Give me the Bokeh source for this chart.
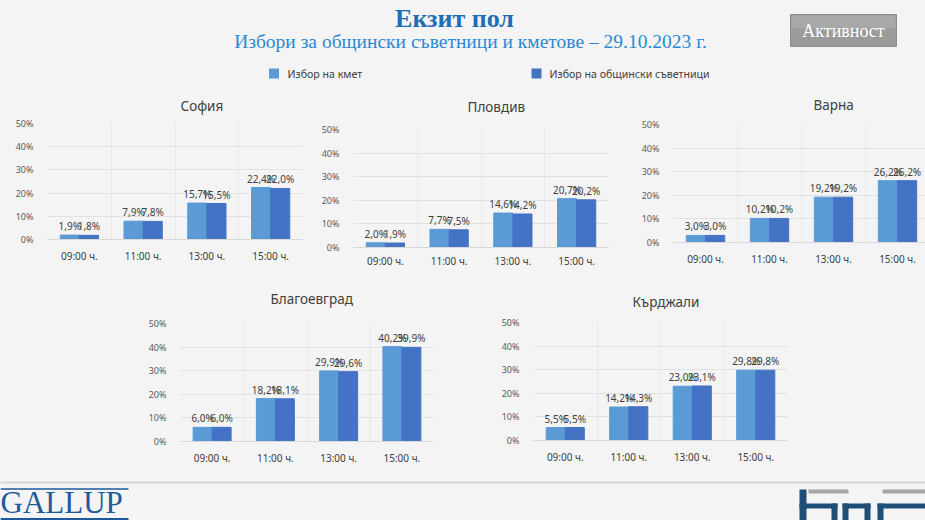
from bokeh.plotting import figure
from bokeh.layouts import column, row
from bokeh.models import Range1d, FixedTicker, NumeralTickFormatter, Spacer, ColumnDataSource
from bokeh.transform import dodge
from bokeh.core.properties import value
from bokeh.embed import file_html
from bokeh.resources import INLINE

# ---------------- data ----------------
main_title = "Екзит пол"
sub_title = "Избори за общински съветници и кметове – 29.10.2023 г."
button_text = "Активност"
series_names = ["Избор на кмет", "Избор на общински съветници"]
times = ["09:00 ч.", "11:00 ч.", "13:00 ч.", "15:00 ч."]
y_ticks = [0, 10, 20, 30, 40, 50]

sofia_mayor = [1.9, 7.9, 15.7, 22.4]
sofia_council = [1.8, 7.8, 15.5, 22.0]
plovdiv_mayor = [2.0, 7.7, 14.6, 20.7]
plovdiv_council = [1.9, 7.5, 14.2, 20.2]
varna_mayor = [3.0, 10.2, 19.2, 26.2]
varna_council = [3.0, 10.2, 19.2, 26.2]
blagoevgrad_mayor = [6.0, 18.2, 29.9, 40.2]
blagoevgrad_council = [6.0, 18.1, 29.6, 39.9]
kardzhali_mayor = [5.5, 14.2, 23.0, 29.8]
kardzhali_council = [5.5, 14.3, 23.1, 29.8]

# ---------------- style ----------------
BG = "#f4f4f4"
C_MAYOR = "#5b9bd5"
C_COUNCIL = "#4472c4"
FONT = "Noto Sans"
SERIF = "Liberation Serif"
TXT = "#404040"


def fmt(v):
    return f"{v:.1f}".replace(".", ",") + "%"


def make_chart(name, mayor, council, fw, fh, bl, br, bt, bb, x_end, t_off, t_stand, x_standoff=3):
    p = figure(frame_width=fw, frame_height=fh,
               x_range=Range1d(0, x_end), y_range=Range1d(0, 0.5),
               output_backend="svg", toolbar_location=None,
               min_border_left=bl, min_border_right=br,
               min_border_top=bt, min_border_bottom=bb,
               background_fill_color=BG, border_fill_color=BG,
               outline_line_color=None, title=name)
    p.title.align = "left"
    p.title.offset = t_off
    p.title.standoff = t_stand
    p.title.text_font = FONT
    p.title.text_font_size = "13.5px"
    p.title.text_font_style = "normal"
    p.title.text_color = TXT

    xs = [i + 0.5 for i in range(len(times))]
    src = ColumnDataSource(dict(
        x=xs,
        mayor=[v / 100 for v in mayor],
        council=[v / 100 for v in council],
        mayor_lbl=[fmt(v) for v in mayor],
        council_lbl=[fmt(v) for v in council],
    ))
    p.vbar(x=dodge("x", -0.15), top="mayor", width=0.3, source=src,
           fill_color=C_MAYOR, line_color=C_MAYOR)
    p.vbar(x=dodge("x", 0.15), top="council", width=0.3, source=src,
           fill_color=C_COUNCIL, line_color=C_COUNCIL)
    for col, off in (("mayor", -0.15), ("council", 0.15)):
        p.text(x=dodge("x", off), y=col, text=col + "_lbl", source=src,
               text_align="center", text_baseline="bottom", y_offset=-2,
               text_font=value(FONT), text_font_size="10px", text_color=TXT)

    p.xaxis.ticker = FixedTicker(ticks=xs)
    p.xaxis.major_label_overrides = {x: t for x, t in zip(xs, times)}
    p.xaxis.major_tick_line_color = None
    p.xaxis.minor_tick_line_color = None
    p.xaxis.axis_line_color = "#d9d9d9"
    p.xaxis.major_label_text_font = FONT
    p.xaxis.major_label_text_font_size = "10px"
    p.xaxis.major_label_text_color = TXT
    p.xaxis.major_label_standoff = x_standoff

    p.yaxis.ticker = FixedTicker(ticks=[t / 100 for t in y_ticks])
    p.yaxis.formatter = NumeralTickFormatter(format="0%")
    p.yaxis.axis_line_color = None
    p.yaxis.major_tick_line_color = None
    p.yaxis.minor_tick_line_color = None
    p.yaxis.major_label_text_font = FONT
    p.yaxis.major_label_text_font_size = "9px"
    p.yaxis.major_label_text_color = "#595959"
    p.yaxis.major_label_standoff = 8

    p.ygrid.grid_line_color = "#e2e2e2"
    p.xgrid.ticker = FixedTicker(ticks=list(range(5)))
    p.xgrid.grid_line_color = "#e8e8e8"
    return p


def deco_fig(w, h, x0, x1, ytop, ybot):
    p = figure(width=w, height=h, x_range=Range1d(x0, x1), y_range=Range1d(ybot, ytop),
               x_axis_type=None, y_axis_type=None, min_border=0,
               output_backend="svg", toolbar_location=None,
               background_fill_color=BG, border_fill_color=BG, outline_line_color=None)
    p.grid.visible = False
    return p


# ---------------- header (0..80) ----------------
hdr = deco_fig(925, 80, 0, 925, 0, 80)
hdr.text(x=[454], y=[18], text=[main_title], text_align="center", text_baseline="middle",
         text_font=value(SERIF), text_font_size="26px", text_font_style="bold", text_color="#1e6db6")
hdr.text(x=[470], y=[41], text=[sub_title], text_align="center", text_baseline="middle",
         text_font=value(SERIF), text_font_size="19.5px", text_color="#2a89d2")
hdr.quad(left=[790], right=[896], top=[14], bottom=[46], fill_color="#9b9b9b", line_color="#8c8c8c")
hdr.quad(left=[791], right=[895], top=[15], bottom=[28], fill_color="#a8a8a8", line_color=None)
hdr.text(x=[843], y=[30], text=[button_text], text_align="center", text_baseline="middle",
         text_font=value(SERIF), text_font_size="18px", text_color="white")
hdr.scatter(x=[273.5, 536], y=[73, 73], marker="square", size=10,
            fill_color=[C_MAYOR, C_COUNCIL], line_color=None)
hdr.text(x=[287, 549], y=[73, 73], text=series_names, text_align="left", text_baseline="middle",
         text_font=value(FONT), text_font_size="10.6px", text_color=TXT)

# ---------------- charts ----------------
# row 1: y 80..270
sofia = make_chart("София", sofia_mayor, sofia_council, 255, 116, 47, 6, 43, 31, 4, 133, 17)
plovdiv = make_chart("Пловдив", plovdiv_mayor, plovdiv_council, 255, 118, 45, 12, 49, 23, 4, 114, 27,
                     x_standoff=0)
varna = make_chart("Варна", varna_mayor, varna_council, 252, 118, 53, 0, 44, 28, 252 / 64, 140, 21)
# row 2: y 270..480
blag = make_chart("Благоевград", blagoevgrad_mayor, blagoevgrad_council, 253, 118, 50, 17, 53, 39, 4, 90, 32)
kard = make_chart("Кърджали", kardzhali_mayor, kardzhali_council, 254, 118, 83, 13, 52, 40, 4, 99, 23)

row1 = row(column(sofia), column(plovdiv), column(varna))
row2 = row(Spacer(width=130, height=210), column(blag), column(kard), Spacer(width=125, height=210))

# ---------------- footer (480..520) ----------------
ftr = deco_fig(925, 40, 0, 925, 480, 520)
ftr.segment(x0=[0], y0=[482], x1=[925], y1=[482], line_color="#d6d6d6", line_width=2)
ftr.segment(x0=[0], y0=[488.5], x1=[128], y1=[488.5], line_color="#1d5a9c", line_width=1.5)
ftr.quad(left=[0], right=[128], top=[517.5], bottom=[520], fill_color="#1d5a9c", line_color=None)
ftr.text(x=[0], y=[519], text=["GALLUP"], text_align="left", text_baseline="bottom",
         text_font=value(SERIF), text_font_size="31px", text_color="#1d5a9c")
# BNR logo shapes
ftr.quad(left=[808, 882], right=[848, 925], top=[489, 489], bottom=[493, 493],
         fill_color="#a6a6a6", line_color=None)
ftr.quad(left=[799, 799, 831, 842, 842, 864, 877, 877],
         right=[806, 837, 837, 870, 848, 870, 883, 925],
         top=[489, 503, 503, 503, 503, 503, 503, 503],
         bottom=[520, 508, 520, 508, 520, 520, 520, 508],
         fill_color="#1f4e79", line_color=None)

layout = column(hdr, row1, row2, ftr, spacing=0)
layout.styles = {"background-color": BG}

open("out.html", "w").write(file_html(layout, INLINE))
